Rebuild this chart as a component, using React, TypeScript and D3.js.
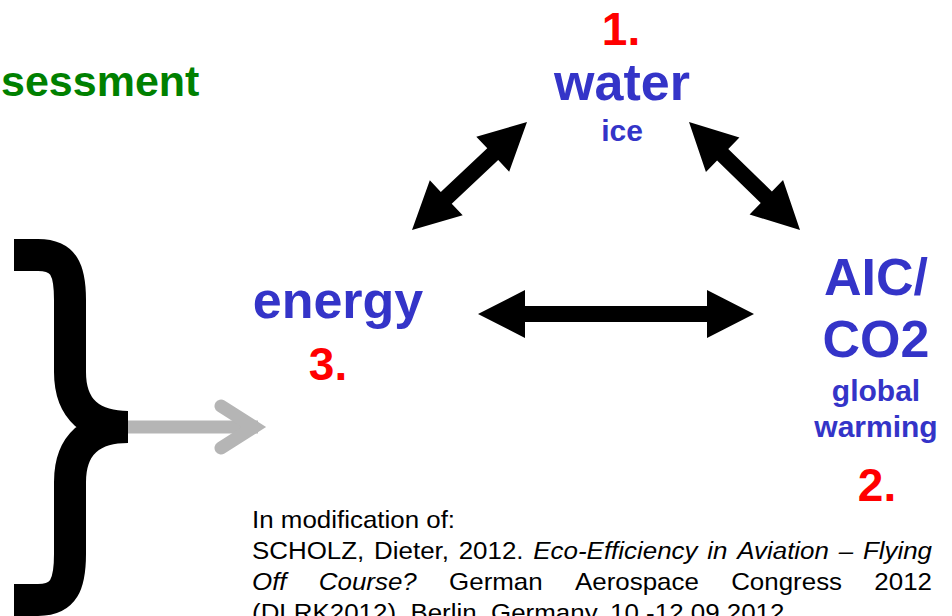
import React, { useRef, useEffect } from "react";
import * as d3 from "d3";

// labels of the three corners (water, AIC/CO2, energy)
const rankLabels = ["1.", "2.", "3."];
const topicLabels = [["water"], ["AIC/", "CO2"], ["energy"]];
const subLabels = [["ice"], ["global", "warming"], []];
const headingText = "sessment";

// citation text, the italic parts flagged
const citeIntro = "In modification of:";
const citeLines = [
  [
    { t: "SCHOLZ, Dieter, 2012.", i: false },
    { t: "Eco-Efficiency in Aviation – Flying", i: true },
  ],
  [
    { t: "Off Course?", i: true },
    { t: "German Aerospace Congress 2012", i: false },
  ],
];
const citeLast = "(DLRK2012), Berlin, Germany, 10.-12.09.2012";

// which corners are linked by double arrows
const links = [
  [2, 0],
  [0, 1],
  [2, 1],
];

const W = 952;
const H = 616;
const BLUE = "#3434c8";
const RED = "#ff0000";
const GREEN = "#008000";
const FONT = "'Liberation Sans', Arial, sans-serif";

// layout of each corner: center x, baselines
const layout = [
  { x: 622, rankY: 45, topicY: [100], subY: [141], rankX: 621 },
  { x: 876, rankY: 501, topicY: [295, 357], subY: [401, 437], rankX: 877 },
  { x: 338, rankY: 380, topicY: [318], subY: [], rankX: 328 },
];

// arrow ends for each link
const arrowEnds = [
  [[412, 230], [527, 122]],
  [[689, 122], [800, 230]],
  [[478, 314], [754, 314]],
];

const doubleArrow = (a, b, hl = 47, hh = 24, sh = 8) => {
  const dx = b[0] - a[0];
  const dy = b[1] - a[1];
  const len = Math.hypot(dx, dy);
  const u = [dx / len, dy / len];
  const n = [-u[1], u[0]];
  const p = (base, along, side) => [
    base[0] + u[0] * along + n[0] * side,
    base[1] + u[1] * along + n[1] * side,
  ];
  return [
    a,
    p(a, hl, hh),
    p(a, hl, sh),
    p(b, -hl, sh),
    p(b, -hl, hh),
    b,
    p(b, -hl, -hh),
    p(b, -hl, -sh),
    p(a, hl, -sh),
    p(a, hl, -hh),
  ];
};

const App = () => {
  const ref = useRef(null);

  useEffect(() => {
    const svg = d3
      .select(ref.current)
      .append("svg")
      .attr("width", W)
      .attr("height", H)
      .style("position", "absolute")
      .style("left", 0)
      .style("top", 0)
      .style("background", "#fff");

    // heading cut off at the left edge
    svg
      .append("text")
      .attr("x", 1)
      .attr("y", 96)
      .attr("font-family", FONT)
      .attr("font-weight", "bold")
      .attr("font-size", 43)
      .attr("fill", GREEN)
      .text(headingText);

    // big curly brace
    const brace = d3.path();
    brace.moveTo(14, 255);
    brace.lineTo(38, 255);
    brace.bezierCurveTo(64, 255, 70, 270, 70, 300);
    brace.lineTo(70, 372);
    brace.bezierCurveTo(70, 410, 92, 427, 128, 427);
    brace.bezierCurveTo(92, 427, 70, 444, 70, 482);
    brace.lineTo(70, 554);
    brace.bezierCurveTo(70, 584, 64, 600, 38, 600);
    brace.lineTo(14, 600);
    svg
      .append("path")
      .attr("d", brace.toString())
      .attr("fill", "none")
      .attr("stroke", "#000")
      .attr("stroke-width", 32)
      .attr("stroke-linecap", "butt");

    // grey arrow out of the brace
    const grey = svg
      .append("g")
      .attr("fill", "none")
      .attr("stroke", "#b5b5b5")
      .attr("stroke-width", 13);
    grey
      .append("line")
      .attr("x1", 128)
      .attr("y1", 427)
      .attr("x2", 258)
      .attr("y2", 427);
    grey
      .append("path")
      .attr("d", d3.line()([[221, 406], [254, 427], [221, 448]]))
      .attr("stroke-linecap", "round")
      .attr("stroke-linejoin", "miter");

    // black double arrows
    const poly = d3.line().curve(d3.curveLinearClosed);
    svg
      .append("g")
      .selectAll("path")
      .data(links)
      .join("path")
      .attr("d", (d, i) => poly(doubleArrow(arrowEnds[i][0], arrowEnds[i][1])))
      .attr("fill", "#000");

    // corner labels
    const corners = svg
      .append("g")
      .attr("font-family", FONT)
      .attr("font-weight", "bold")
      .attr("text-anchor", "middle")
      .selectAll("g")
      .data(rankLabels)
      .join("g");

    corners
      .append("text")
      .attr("x", (d, i) => layout[i].rankX)
      .attr("y", (d, i) => layout[i].rankY)
      .attr("font-size", 46)
      .attr("fill", RED)
      .text((d) => d);

    corners.each(function (d, i) {
      const g = d3.select(this);
      topicLabels[i].forEach((t, k) => {
        g.append("text")
          .attr("x", layout[i].x)
          .attr("y", layout[i].topicY[k])
          .attr("font-size", 52)
          .attr("fill", BLUE)
          .text(t);
      });
      subLabels[i].forEach((t, k) => {
        g.append("text")
          .attr("x", layout[i].x)
          .attr("y", layout[i].subY[k])
          .attr("font-size", 30)
          .attr("fill", BLUE)
          .text(t);
      });
    });

    // citation, slightly widened and justified between x0 and x1
    const x0 = 252;
    const x1 = 932;
    const sx = 1.08;
    const span = (x1 - x0) / sx;
    const lineH = 31;
    const cite = svg
      .append("g")
      .attr("transform", `translate(${x0},0) scale(${sx},1)`)
      .attr("font-family", FONT)
      .attr("font-size", 24)
      .attr("fill", "#000");

    cite.append("text").attr("x", 0).attr("y", 528).text(citeIntro);

    citeLines.forEach((segs, li) => {
      const y = 528 + lineH * (li + 1);
      const words = segs.flatMap((s) =>
        s.t.split(" ").map((w) => ({ w, i: s.i }))
      );
      const nodes = words.map((wd) =>
        cite
          .append("text")
          .attr("y", y)
          .attr("font-style", wd.i ? "italic" : "normal")
          .text(wd.w)
      );
      const widths = nodes.map((n) => n.node().getComputedTextLength());
      const gap = (span - d3.sum(widths)) / (words.length - 1);
      let x = 0;
      nodes.forEach((n, k) => {
        n.attr("x", x);
        x += widths[k] + gap;
      });
    });

    cite
      .append("text")
      .attr("x", 0)
      .attr("y", 528 + lineH * 3)
      .text(citeLast);

    return () => {
      svg.remove();
    };
  }, []);

  return <div ref={ref}></div>;
};

export default App;
